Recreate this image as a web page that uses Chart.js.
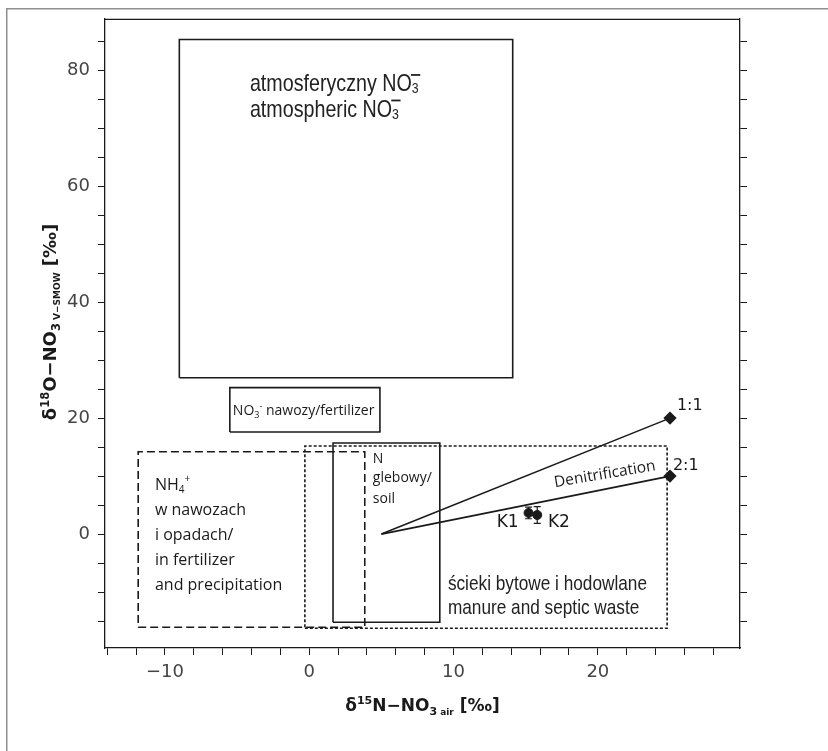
<!DOCTYPE html>
<html>
<head>
<meta charset="utf-8">
<script src="https://cdn.jsdelivr.net/npm/chart.js@4/dist/chart.umd.min.js"></script>
<style>
  body { margin: 0; background: #fff; }
  canvas { display: block; }
</style>
</head>
<body>
<canvas id="chart" width="828" height="751"></canvas>
<script>
// zakresy osi i podziałki
const xRange = [-14.15, 29.85];
const yRange = [-19.64, 88.86];
const xTickValues = [-14, -12, -10, -8, -6, -4, -2, 0, 2, 4, 6, 8, 10, 12, 14, 16, 18, 20, 22, 24, 26, 28];
const xTickLabels = [-10, 0, 10, 20];
const yTickValues = [-15, -10, -5, 0, 5, 10, 15, 20, 25, 30, 35, 40, 45, 50, 55, 60, 65, 70, 75, 80, 85];
const yTickLabels = [0, 20, 40, 60, 80];

// pola źródeł azotanów [xmin, xmax, ymin, ymax]
const boxAtmospheric = [-9.0, 14.1, 26.96, 85.3];
const boxFertilizer = [-5.5, 4.9, 17.6, 25.26];
const boxAmmonium = [-11.85, 3.85, -16.07, 14.2];
const boxManure = [-0.3, 24.8, -16.24, 15.2];
const boxSoil = [1.65, 9.05, -15.2, 15.7];

// linie denitryfikacji
const lineStart = [5, 0];
const line11End = [25, 20];
const line21End = [25, 10];

// próbki
const sampleNames = ['K1', 'K2'];
const sampleX = [15.2, 15.8];
const sampleY = [3.65, 3.3];
const sampleErr = [1.0, 1.45];

const INK = '#1a1a1a';

// czy jest wąska czcionka
function hasFont(name) {
    const c = document.createElement('canvas').getContext('2d');
    c.font = '40px monospace';
    const a = c.measureText('abcdefghijklmnop').width;
    c.font = '40px "' + name + '", monospace';
    const b = c.measureText('abcdefghijklmnop').width;
    return a !== b;
}
const hasNarrow = hasFont('Liberation Sans Narrow');
const narrowFace = hasNarrow ? '"Liberation Sans Narrow"' : '"Liberation Sans"';
const narrowScale = hasNarrow ? 1 : 0.82;

function rect(b) {
    return [
        { x: b[0], y: b[2] }, { x: b[1], y: b[2] },
        { x: b[1], y: b[3] }, { x: b[0], y: b[3] },
        { x: b[0], y: b[2] }
    ];
}

// tekst z indeksami górnymi/dolnymi
function drawRich(ctx, x, y, parts, opts) {
    opts = opts || {};
    ctx.save();
    ctx.translate(x, y);
    if (opts.rotate) ctx.rotate(opts.rotate);
    ctx.scale(opts.sx || 1, 1);
    ctx.textAlign = 'left';
    ctx.textBaseline = 'alphabetic';
    ctx.fillStyle = opts.color || INK;
    let w = 0;
    parts.forEach(p => { ctx.font = p.font; w += ctx.measureText(p.text).width; });
    let cx = opts.align === 'center' ? -w / 2 : 0;
    parts.forEach(p => {
        ctx.font = p.font;
        const pw = ctx.measureText(p.text).width;
        ctx.fillText(p.text, cx, p.dy || 0);
        if (p.bar !== undefined) ctx.fillRect(cx - 1, p.bar, pw + 3, 1.8);
        cx += pw;
    });
    ctx.restore();
}

const sans = '"Open Sans"';
const dv = '"DejaVu Sans"';

const annotations = {
    id: 'annotations',
    beforeDraw(chart) {
        const ctx = chart.ctx;
        ctx.save();
        ctx.fillStyle = '#8f8f8f';
        ctx.fillRect(6, 8, 1.5, 751);
        ctx.fillRect(6, 8, 828, 1.5);
        ctx.restore();
    },
    afterDraw(chart) {
        const ctx = chart.ctx;
        const xs = chart.scales.x, ys = chart.scales.y;
        const X = v => xs.getPixelForValue(v);
        const Y = v => ys.getPixelForValue(v);
        const a = chart.chartArea;

        // górna krawędź
        ctx.save();
        ctx.strokeStyle = INK;
        ctx.lineWidth = 1.3;
        ctx.beginPath();
        ctx.moveTo(a.left, a.top + 0.5);
        ctx.lineTo(a.right, a.top + 0.5);
        ctx.stroke();

        // słupki błędów
        ctx.lineWidth = 1.2;
        sampleX.forEach((sx, i) => {
            const px = X(sx), y1 = Y(sampleY[i] - sampleErr[i]), y2 = Y(sampleY[i] + sampleErr[i]);
            ctx.beginPath();
            ctx.moveTo(px, y1); ctx.lineTo(px, y2);
            ctx.moveTo(px - 3.5, y1); ctx.lineTo(px + 3.5, y1);
            ctx.moveTo(px - 3.5, y2); ctx.lineTo(px + 3.5, y2);
            ctx.stroke();
        });
        ctx.restore();

        const nf = s => s + 'px ' + narrowFace;
        drawRich(ctx, X(-4.11), Y(76.4), [
            { text: 'atmosferyczny NO', font: nf(24) },
            { text: '3', font: nf(15), dy: 2, bar: -17 }
        ], { sx: narrowScale, color: '#222' });
        drawRich(ctx, X(-4.11), Y(72.0), [
            { text: 'atmospheric NO', font: nf(24) },
            { text: '3', font: nf(15), dy: 2, bar: -17 }
        ], { sx: narrowScale, color: '#222' });
        drawRich(ctx, X(9.61), Y(-9.6), [{ text: 'ścieki bytowe i hodowlane', font: nf(21) }], { sx: narrowScale, color: '#222' });
        drawRich(ctx, X(9.61), Y(-13.8), [{ text: 'manure and septic waste', font: nf(21) }], { sx: narrowScale, color: '#222' });

        drawRich(ctx, X(-5.29), Y(20.5), [
            { text: 'NO', font: '14px ' + sans },
            { text: '3', font: '9px ' + sans, dy: 3 },
            { text: '-', font: '9px ' + sans, dy: -6 },
            { text: ' nawozy/fertilizer', font: '14px ' + sans }
        ]);

        const nh = [
            [{ text: 'NH', font: '16px ' + sans }, { text: '4', font: '10px ' + sans, dy: 3 }, { text: '+', font: '10px ' + sans, dy: -8 }],
            [{ text: 'w nawozach', font: '16px ' + sans }],
            [{ text: 'i opadach/', font: '16px ' + sans }],
            [{ text: 'in fertilizer', font: '16px ' + sans }],
            [{ text: 'and precipitation', font: '16px ' + sans }]
        ];
        const nhY = [7.6, 3.3, -1.0, -5.3, -9.6];
        nh.forEach((p, i) => drawRich(ctx, X(-10.69), Y(nhY[i]), p));

        const soil = ['N', 'glebowy/', 'soil'];
        const soilY = [12.2, 8.9, 5.4];
        soil.forEach((t, i) => drawRich(ctx, X(4.41), Y(soilY[i]), [{ text: t, font: '14px ' + sans }]));

        drawRich(ctx, X(17.03), Y(8.1), [{ text: 'Denitrification', font: '15.5px ' + sans }], { rotate: -0.166 });

        drawRich(ctx, X(25.48), Y(21.34), [{ text: '1:1', font: '16px ' + dv }]);
        drawRich(ctx, X(25.2), Y(11.14), [{ text: '2:1', font: '16px ' + dv }]);
        drawRich(ctx, X(12.99), Y(1.28), [{ text: sampleNames[0], font: '17px ' + dv }]);
        drawRich(ctx, X(16.54), Y(1.28), [{ text: sampleNames[1], font: '17px ' + dv }]);

        // tytuły osi
        const b = s => 'bold ' + s + 'px ' + dv;
        drawRich(ctx, (a.left + a.right) / 2, 711, [
            { text: 'δ', font: b(17) },
            { text: '15', font: b(11), dy: -7 },
            { text: 'N−NO', font: b(17) },
            { text: '3', font: b(11), dy: 4 },
            { text: ' air', font: b(9), dy: 4 },
            { text: ' [‰]', font: b(17) }
        ], { align: 'center' });
        drawRich(ctx, 56, 322, [
            { text: 'δ', font: b(18) },
            { text: '18', font: b(11.5), dy: -7 },
            { text: 'O−NO', font: b(18) },
            { text: '3', font: b(11.5), dy: 4 },
            { text: ' V−SMOW', font: b(9), dy: 4 },
            { text: ' [‰]', font: b(18) }
        ], { align: 'center', rotate: -Math.PI / 2 });
    }
};

function axisGrid() {
    return { drawOnChartArea: false, drawTicks: true, tickLength: 7, color: INK, lineWidth: 1 };
}

const lineStyle = { showLine: true, borderColor: INK, borderWidth: 1.6, pointRadius: 0, fill: false, tension: 0 };

new Chart(document.getElementById('chart'), {
    type: 'scatter',
    data: {
        datasets: [
            Object.assign({ data: rect(boxAtmospheric) }, lineStyle),
            Object.assign({ data: rect(boxFertilizer) }, lineStyle),
            Object.assign({ data: rect(boxAmmonium), borderDash: [8, 4] }, lineStyle),
            Object.assign({ data: rect(boxManure), borderDash: [3, 2] }, lineStyle),
            Object.assign({ data: rect(boxSoil) }, lineStyle),
            Object.assign({}, lineStyle, {
                data: [{ x: lineStart[0], y: lineStart[1] }, { x: line11End[0], y: line11End[1] }],
                pointRadius: [0, 5.5], pointStyle: 'rectRot', pointBackgroundColor: INK, pointBorderColor: INK
            }),
            Object.assign({}, lineStyle, {
                data: [{ x: lineStart[0], y: lineStart[1] }, { x: line21End[0], y: line21End[1] }],
                pointRadius: [0, 5.5], pointStyle: 'rectRot', pointBackgroundColor: INK, pointBorderColor: INK
            }),
            {
                data: sampleX.map((x, i) => ({ x: x, y: sampleY[i] })),
                showLine: false, pointRadius: 4.5, pointStyle: 'circle',
                backgroundColor: INK, borderColor: INK
            }
        ]
    },
    options: {
        responsive: false,
        animation: false,
        events: [],
        layout: { padding: { left: 0, right: 0, top: 10, bottom: 0 } },
        plugins: { legend: { display: false }, tooltip: { enabled: false } },
        scales: {
            x: {
                type: 'linear', position: 'bottom', min: xRange[0], max: xRange[1],
                afterBuildTicks: s => { s.ticks = xTickValues.map(v => ({ value: v })); },
                afterFit: s => { s.height = 103; },
                grid: axisGrid(),
                border: { display: true, color: INK, width: 1.3 },
                ticks: {
                    autoSkip: false, maxRotation: 0, padding: 7, color: '#444',
                    font: { family: 'DejaVu Sans', size: 18 },
                    callback: v => xTickLabels.includes(v) ? String(v).replace('-', '\u2212') : ''
                }
            },
            y: {
                type: 'linear', position: 'left', min: yRange[0], max: yRange[1],
                afterBuildTicks: s => { s.ticks = yTickValues.map(v => ({ value: v })); },
                afterFit: s => { s.width = 105; },
                grid: axisGrid(),
                border: { display: true, color: INK, width: 1.3 },
                ticks: {
                    autoSkip: false, padding: 8, color: '#444',
                    font: { family: 'DejaVu Sans', size: 18 },
                    callback: v => yTickLabels.includes(v) ? String(v) : ''
                }
            },
            y2: {
                type: 'linear', position: 'right', min: yRange[0], max: yRange[1],
                afterBuildTicks: s => { s.ticks = yTickValues.map(v => ({ value: v })); },
                afterFit: s => { s.width = 88; },
                grid: axisGrid(),
                border: { display: true, color: INK, width: 1.3 },
                ticks: { autoSkip: false, callback: () => '' }
            }
        }
    },
    plugins: [annotations]
});
</script>
</body>
</html>
